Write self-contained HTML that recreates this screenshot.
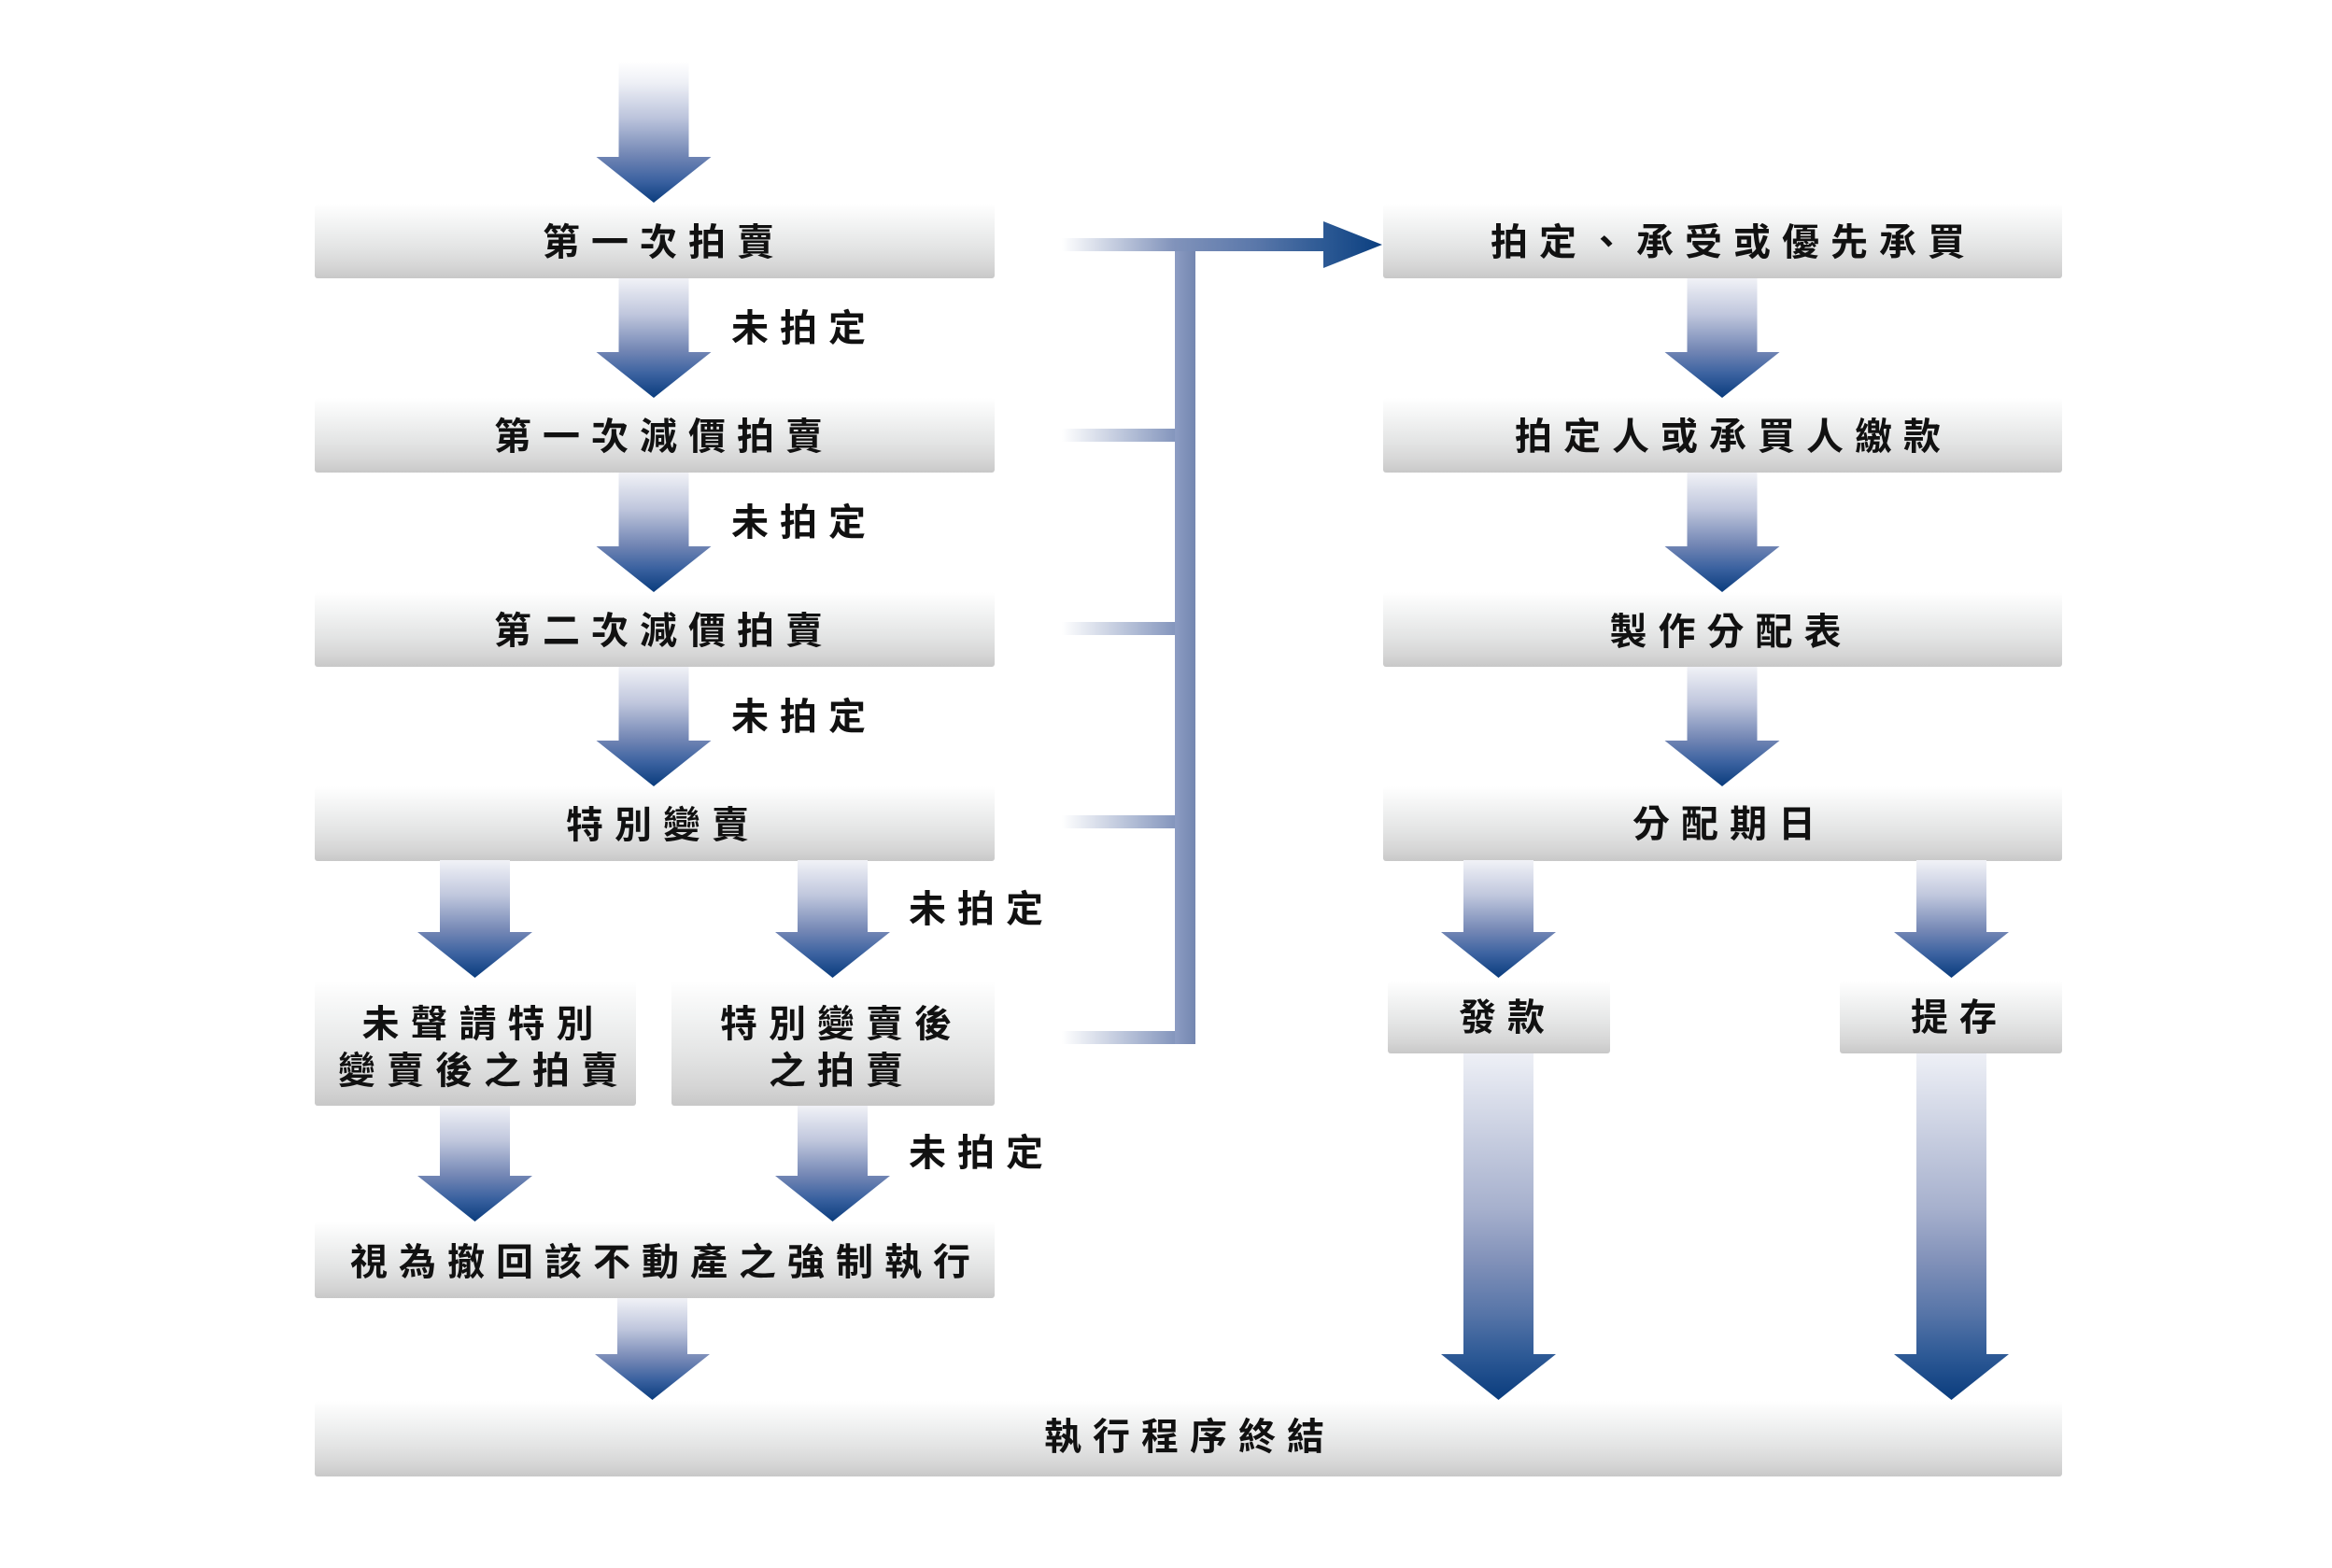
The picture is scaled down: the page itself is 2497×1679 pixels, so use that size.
<!DOCTYPE html>
<html>
<head>
<meta charset="utf-8">
<style>
  html,body{margin:0;padding:0;background:#ffffff;}
  body{width:2497px;height:1679px;overflow:hidden;}
  svg{display:block;}
  text{font-family:"Liberation Sans","Noto Sans CJK TC","Noto Sans CJK SC",sans-serif;font-size:40px;font-weight:700;letter-spacing:12px;fill:#111;}
</style>
</head>
<body>
<svg width="2497" height="1679" viewBox="0 0 2497 1679" xmlns="http://www.w3.org/2000/svg">
  <defs>
    <linearGradient id="gb" x1="0" y1="0" x2="0" y2="1">
      <stop offset="0" stop-color="#ffffff"/>
      <stop offset="0.3" stop-color="#f1f2f2"/>
      <stop offset="0.6" stop-color="#e3e4e4"/>
      <stop offset="0.85" stop-color="#d5d5d5"/>
      <stop offset="1" stop-color="#c8c8c8"/>
    </linearGradient>
    <linearGradient id="gs" x1="0" y1="0" x2="0" y2="1">
      <stop offset="0" stop-color="#f1f2f7"/>
      <stop offset="0.3" stop-color="#c0c7dd"/>
      <stop offset="0.6" stop-color="#7487b5"/>
      <stop offset="0.8" stop-color="#3b62a0"/>
      <stop offset="1" stop-color="#0a3c7d"/>
    </linearGradient>
    <linearGradient id="g0" x1="0" y1="0" x2="0" y2="1">
      <stop offset="0" stop-color="#ffffff"/>
      <stop offset="0.15" stop-color="#eef0f6"/>
      <stop offset="0.4" stop-color="#bcc4dc"/>
      <stop offset="0.67" stop-color="#7085b4"/>
      <stop offset="0.85" stop-color="#3a61a0"/>
      <stop offset="1" stop-color="#0a3c7d"/>
    </linearGradient>
    <linearGradient id="gl" x1="0" y1="0" x2="0" y2="1">
      <stop offset="0" stop-color="#eef0f6"/>
      <stop offset="0.45" stop-color="#a6b0cd"/>
      <stop offset="0.6" stop-color="#8191b9"/>
      <stop offset="0.75" stop-color="#5775a8"/>
      <stop offset="0.87" stop-color="#2e5a96"/>
      <stop offset="1" stop-color="#0a3c7d"/>
    </linearGradient>
    <linearGradient id="gh" gradientUnits="userSpaceOnUse" x1="1137" y1="0" x2="1260" y2="0">
      <stop offset="0" stop-color="#ffffff"/>
      <stop offset="1" stop-color="#8294bc"/>
    </linearGradient>
    <linearGradient id="gtop" gradientUnits="userSpaceOnUse" x1="1137" y1="0" x2="1480" y2="0">
      <stop offset="0" stop-color="#ffffff"/>
      <stop offset="0.35" stop-color="#8193bb"/>
      <stop offset="0.6" stop-color="#5b78aa"/>
      <stop offset="0.82" stop-color="#2c5994"/>
      <stop offset="1" stop-color="#0b3f80"/>
    </linearGradient>
    <linearGradient id="gbar" gradientUnits="userSpaceOnUse" x1="1258" y1="0" x2="1280" y2="0">
      <stop offset="0" stop-color="#8d9dc3"/>
      <stop offset="1" stop-color="#7386b0"/>
    </linearGradient>
  </defs>

  <!-- Boxes: left column -->
  <rect x="337" y="218" width="728" height="80" rx="3" fill="url(#gb)"/>
  <rect x="337" y="426" width="728" height="80" rx="3" fill="url(#gb)"/>
  <rect x="337" y="634" width="728" height="80" rx="3" fill="url(#gb)"/>
  <rect x="337" y="842" width="728" height="80" rx="3" fill="url(#gb)"/>
  <rect x="337" y="1050" width="344" height="134" rx="3" fill="url(#gb)"/>
  <rect x="719" y="1050" width="346" height="134" rx="3" fill="url(#gb)"/>
  <rect x="337" y="1308" width="728" height="82" rx="3" fill="url(#gb)"/>
  <rect x="337" y="1500" width="1871" height="81" rx="3" fill="url(#gb)"/>

  <!-- Boxes: right column -->
  <rect x="1481" y="218" width="727" height="80" rx="3" fill="url(#gb)"/>
  <rect x="1481" y="426" width="727" height="80" rx="3" fill="url(#gb)"/>
  <rect x="1481" y="634" width="727" height="80" rx="3" fill="url(#gb)"/>
  <rect x="1481" y="842" width="727" height="80" rx="3" fill="url(#gb)"/>
  <rect x="1486" y="1050" width="238" height="78" rx="3" fill="url(#gb)"/>
  <rect x="1970" y="1050" width="238" height="78" rx="3" fill="url(#gb)"/>

  <!-- Arrows left column -->
  <polygon fill="url(#g0)" points="662.5,66 737.5,66 737.5,168 761.5,168 700,217 638.5,168 662.5,168"/>
  <polygon fill="url(#gs)" points="662.5,298 737.5,298 737.5,377 761.5,377 700,426 638.5,377 662.5,377"/>
  <polygon fill="url(#gs)" points="662.5,506 737.5,506 737.5,585 761.5,585 700,634 638.5,585 662.5,585"/>
  <polygon fill="url(#gs)" points="662.5,714 737.5,714 737.5,793 761.5,793 700,842 638.5,793 662.5,793"/>
  <polygon fill="url(#gs)" points="471,921 546,921 546,998 570,998 508.5,1047 447,998 471,998"/>
  <polygon fill="url(#gs)" points="854,921 929,921 929,998 953,998 891.5,1047 830,998 854,998"/>
  <polygon fill="url(#gs)" points="471,1184 546,1184 546,1259 570,1259 508.5,1308 447,1259 471,1259"/>
  <polygon fill="url(#gs)" points="854,1184 929,1184 929,1259 953,1259 891.5,1308 830,1259 854,1259"/>
  <polygon fill="url(#gs)" points="661,1390 736,1390 736,1450 760,1450 698.5,1499 637,1450 661,1450"/>

  <!-- Arrows right column -->
  <polygon fill="url(#gs)" points="1806.5,298 1881.5,298 1881.5,377 1905.5,377 1844,426 1782.5,377 1806.5,377"/>
  <polygon fill="url(#gs)" points="1806.5,506 1881.5,506 1881.5,585 1905.5,585 1844,634 1782.5,585 1806.5,585"/>
  <polygon fill="url(#gs)" points="1806.5,714 1881.5,714 1881.5,793 1905.5,793 1844,842 1782.5,793 1806.5,793"/>
  <polygon fill="url(#gs)" points="1567,921 1642,921 1642,998 1666,998 1604.5,1047 1543,998 1567,998"/>
  <polygon fill="url(#gs)" points="2052,921 2127,921 2127,998 2151,998 2089.5,1047 2028,998 2052,998"/>
  <polygon fill="url(#gl)" points="1567,1128 1642,1128 1642,1450 1666,1450 1604.5,1499 1543,1450 1567,1450"/>
  <polygon fill="url(#gl)" points="2052,1128 2127,1128 2127,1450 2151,1450 2089.5,1499 2028,1450 2052,1450"/>

  <!-- Connector -->
  <rect x="1137" y="459" width="123" height="14" fill="url(#gh)"/>
  <rect x="1137" y="666" width="123" height="14" fill="url(#gh)"/>
  <rect x="1137" y="873" width="123" height="14" fill="url(#gh)"/>
  <rect x="1137" y="1104" width="123" height="14" fill="url(#gh)"/>
  <rect x="1258" y="255" width="22" height="863" fill="url(#gbar)"/>
  <polygon fill="url(#gtop)" points="1137,255 1417,255 1417,237 1480,262 1417,287 1417,269 1137,269"/>

  <!-- Box texts -->
  <text x="581" y="273">第一次拍賣</text>
  <text x="529" y="481">第一次減價拍賣</text>
  <text x="529" y="689">第二次減價拍賣</text>
  <text x="606" y="897">特別變賣</text>
  <text x="387.5" y="1110">未聲請特別</text>
  <text x="362" y="1160">變賣後之拍賣</text>
  <text x="771" y="1110">特別變賣後</text>
  <text x="823" y="1160">之拍賣</text>
  <text x="375" y="1365">視為撤回該不動產之強制執行</text>
  <text x="1118" y="1552">執行程序終結</text>

  <text x="1596" y="273">拍定、承受或優先承買</text>
  <text x="1622" y="481">拍定人或承買人繳款</text>
  <text x="1723.5" y="690">製作分配表</text>
  <text x="1748" y="896">分配期日</text>
  <text x="1562" y="1103">發款</text>
  <text x="2046" y="1103">提存</text>

  <!-- Labels -->
  <text x="783" y="365">未拍定</text>
  <text x="783" y="573">未拍定</text>
  <text x="783" y="781">未拍定</text>
  <text x="973" y="987">未拍定</text>
  <text x="973" y="1248">未拍定</text>
</svg>
</body>
</html>
